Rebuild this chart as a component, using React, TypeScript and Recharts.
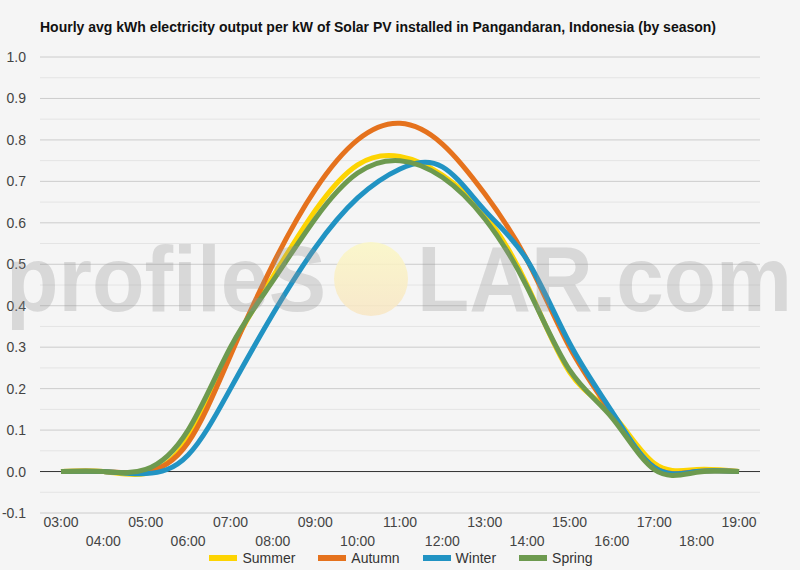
import React from 'react';
import { LineChart, Line, XAxis, YAxis, CartesianGrid, ReferenceLine } from 'recharts';

const hours = ['03:00', '04:00', '05:00', '06:00', '07:00', '08:00', '09:00', '10:00', '11:00', '12:00', '13:00', '14:00', '15:00', '16:00', '17:00', '18:00', '19:00'];
const summer = [0, 0, -0.005, 0.08, 0.29, 0.47, 0.63, 0.74, 0.76, 0.715, 0.62, 0.45, 0.24, 0.14, 0.02, 0.005, 0];
const autumn = [0, 0, 0, 0.07, 0.28, 0.5, 0.68, 0.8, 0.84, 0.79, 0.67, 0.51, 0.3, 0.14, 0.01, 0, 0];
const winter = [0, 0, -0.005, 0.04, 0.2, 0.38, 0.54, 0.66, 0.73, 0.735, 0.63, 0.51, 0.31, 0.145, 0.01, 0, 0];
const spring = [0, 0, 0.005, 0.1, 0.3, 0.46, 0.61, 0.72, 0.75, 0.71, 0.61, 0.445, 0.245, 0.13, 0.005, -0.002, 0];

const yTicks = [-0.1, 0, 0.1, 0.2, 0.3, 0.4, 0.5, 0.6, 0.7, 0.8, 0.9, 1.0];
const minorTicks = [-0.05, 0.05, 0.15, 0.25, 0.35, 0.45, 0.55, 0.65, 0.75, 0.85, 0.95];

const series = [
  { key: 'summer', name: 'Summer', color: '#fdd402' },
  { key: 'autumn', name: 'Autumn', color: '#e5721d' },
  { key: 'winter', name: 'Winter', color: '#2193c3' },
  { key: 'spring', name: 'Spring', color: '#6d9a4f' },
];

const data = hours.map((h, i) => ({
  hour: h,
  summer: summer[i],
  autumn: autumn[i],
  winter: winter[i],
  spring: spring[i],
}));

const FONT = "Arial, 'Liberation Sans', sans-serif";

const HourTick = (props: any) => {
  const { x, payload, index } = props;
  return (
    <text x={x} y={index % 2 === 0 ? 527 : 546} textAnchor="middle" fontSize={14} fill="#444" fontFamily={FONT}>
      {payload.value}
    </text>
  );
};

export default function App() {
  return (
    <div style={{ position: 'absolute', left: 0, top: 0, width: 800, height: 570, background: '#f5f5f5', fontFamily: FONT, overflow: 'hidden' }}>
      <div style={{ position: 'absolute', left: 40, top: 19, fontSize: 14, fontWeight: 'bold', color: '#111', whiteSpace: 'nowrap' }}>
        Hourly avg kWh electricity output per kW of Solar PV installed in Pangandaran, Indonesia (by season)
      </div>
      <LineChart width={800} height={570} data={data} margin={{ top: 57, right: 40, left: 0, bottom: 0 }} style={{ position: 'absolute', left: 0, top: 0 }}>
        <CartesianGrid vertical={false} stroke="#cccccc" />
        {minorTicks.map((v) => (
          <ReferenceLine key={v} y={v} stroke="#e4e4e4" ifOverflow="extendDomain" />
        ))}
        <ReferenceLine y={0} stroke="#333" />
        <XAxis dataKey="hour" interval={0} axisLine={false} tickLine={false} height={57} padding={{ left: 21, right: 21 }} tick={<HourTick />} />
        <YAxis
          domain={[-0.1, 1.0]}
          ticks={yTicks}
          width={40}
          axisLine={false}
          tickLine={false}
          tickMargin={8}
          tickFormatter={(v: number) => v.toFixed(1)}
          tick={{ fontSize: 14, fill: '#444', fontFamily: FONT }}
        />
        {series.map((s) => (
          <Line key={s.key} type="natural" dataKey={s.key} name={s.name} stroke={s.color} strokeWidth={5} dot={false} activeDot={false} isAnimationActive={false} />
        ))}
      </LineChart>
      <svg width={800} height={570} style={{ position: 'absolute', left: 0, top: 0, pointerEvents: 'none' }}>
        <defs>
          <linearGradient id="sun" x1="0" y1="0" x2="0" y2="1">
            <stop offset="0%" stopColor="#fbf7c4" />
            <stop offset="100%" stopColor="#f8e6c4" />
          </linearGradient>
        </defs>
        <circle cx={371} cy={279} r={37} fill="url(#sun)" opacity={0.85} />
        <g fill="rgba(150,150,150,0.3)" fontFamily={FONT} fontSize={92} fontWeight="bold">
          <text x={6} y={311} textLength={320} lengthAdjust="spacingAndGlyphs">profileS</text>
          <text x={417} y={311} textLength={375} lengthAdjust="spacingAndGlyphs">LAR.com</text>
        </g>
      </svg>
      <div style={{ position: 'absolute', left: 0, top: 550, width: 800, display: 'flex', justifyContent: 'center', fontSize: 14, color: '#333' }}>
        <div style={{ display: 'flex', alignItems: 'center', gap: 23, marginLeft: 2 }}>
          {series.map((s) => (
            <div key={s.key} style={{ display: 'flex', alignItems: 'center' }}>
              <span style={{ display: 'inline-block', width: 28, height: 6, background: s.color, marginRight: 5 }} />
              <span>{s.name}</span>
            </div>
          ))}
        </div>
      </div>
    </div>
  );
}
